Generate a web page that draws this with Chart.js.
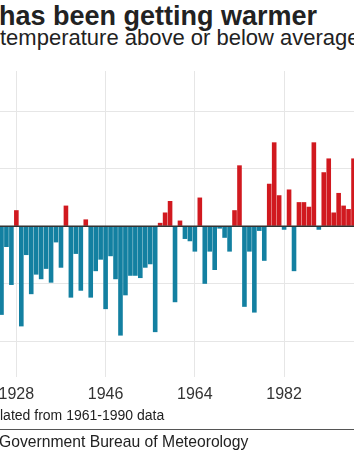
<!DOCTYPE html>
<html>
<head>
<meta charset="utf-8">
<script src="https://cdn.jsdelivr.net/npm/chart.js@4/dist/chart.umd.min.js"></script>
<style>
  html, body { margin: 0; padding: 0; background: #fff; }
  body { width: 354px; height: 450px; position: relative; overflow: hidden; font-family: "Liberation Sans", Arial, Helvetica, sans-serif; color: #222; }
  .txt { position: absolute; white-space: nowrap; line-height: 1; }
  #title { left: -1px; top: 3px; font-size: 27px; font-weight: bold; }
  #subtitle { left: 0; top: 27px; font-size: 22px; }
  #note { left: 0; top: 408px; font-size: 14px; }
  #rule { position: absolute; left: 0; width: 354px; top: 429px; height: 1px; background: #555; }
  #source { left: -1px; top: 433.5px; font-size: 15.7px; }
  #wrap { position: absolute; left: -1px; top: 71px; width: 357px; height: 346px; }
</style>
</head>
<body>
<div class="txt" id="title">has been getting warmer</div>
<div class="txt" id="subtitle">temperature above or below average</div>
<div id="wrap"><canvas id="tempChart"></canvas></div>
<div class="txt" id="note">lated from 1961-1990 data</div>
<div id="rule"></div>
<div class="txt" id="source">Government Bureau of Meteorology</div>
<script>
// years visible in the picture
const years = [
  1925, 1926, 1927, 1928, 1929, 1930, 1931, 1932, 1933, 1934,
  1935, 1936, 1937, 1938, 1939, 1940, 1941, 1942, 1943, 1944,
  1945, 1946, 1947, 1948, 1949, 1950, 1951, 1952, 1953, 1954,
  1955, 1956, 1957, 1958, 1959, 1960, 1961, 1962, 1963, 1964,
  1965, 1966, 1967, 1968, 1969, 1970, 1971, 1972, 1973, 1974,
  1975, 1976, 1977, 1978, 1979, 1980, 1981, 1982, 1983, 1984,
  1985, 1986, 1987, 1988, 1989, 1990, 1991, 1992, 1993, 1994,
  1995, 1996
];

// anomaly in degrees C vs 1961-1990 average
const anomalies = [
  -0.77, -0.18, -0.51, 0.14, -0.87, -0.25, -0.59, -0.42, -0.46, -0.37,
  -0.49, -0.14, -0.36, 0.18, -0.62, -0.24, -0.56, 0.06, -0.62, -0.39,
  -0.29, -0.72, -0.26, -0.46, -0.95, -0.60, -0.43, -0.43, -0.45, -0.36,
  -0.33, -0.92, 0.03, 0.12, 0.22, -0.66, 0.05, -0.11, -0.13, -0.22,
  0.25, -0.50, -0.22, -0.38, -0.02, -0.10, -0.22, 0.14, 0.53, -0.70,
  -0.22, -0.75, -0.04, -0.30, 0.37, 0.73, 0.27, -0.03, 0.32, -0.39,
  0.21, 0.21, 0.17, 0.73, -0.03, 0.47, 0.59, 0.12, 0.29, 0.18,
  0.15, 0.59
];

const tickYears = [1928, 1946, 1964, 1982];
const gridValues = [-1, -0.5, 0.5, 1];

const WARM = '#d1191f';
const COOL = '#1380a1';
const GRID = '#e6e6e6';

const zeroLine = {
  id: 'zeroLine',
  afterDatasetsDraw(chart) {
    const { ctx, chartArea, scales } = chart;
    const y = scales.y.getPixelForValue(0);
    ctx.save();
    ctx.strokeStyle = '#333';
    ctx.lineWidth = 1.5;
    ctx.beginPath();
    ctx.moveTo(chartArea.left, y);
    ctx.lineTo(chartArea.right, y);
    ctx.stroke();
    ctx.restore();
  }
};

new Chart(document.getElementById('tempChart').getContext('2d'), {
  type: 'bar',
  data: {
    labels: years,
    datasets: [{
      data: anomalies,
      backgroundColor: c => (c.raw >= 0 ? WARM : COOL),
      borderWidth: 0,
      barPercentage: 0.93,
      categoryPercentage: 1
    }]
  },
  options: {
    responsive: true,
    maintainAspectRatio: false,
    animation: false,
    layout: { padding: 0 },
    plugins: { legend: { display: false }, tooltip: { enabled: false } },
    scales: {
      x: {
        offset: true,
        border: { display: false },
        grid: {
          offset: false,
          drawTicks: true,
          tickLength: 8,
          tickColor: 'transparent',
          lineWidth: 1,
          color: c => (tickYears.includes(years[c.index]) ? GRID : 'transparent')
        },
        ticks: {
          autoSkip: false,
          maxRotation: 0,
          minRotation: 0,
          padding: 0,
          color: '#333',
          font: { family: '"Liberation Sans", Arial, sans-serif', size: 16 },
          callback: (v, i) => (tickYears.includes(years[i]) ? String(years[i]) : '')
        },
        afterFit: s => { s.height = 40; }
      },
      y: {
        min: -1.31,
        max: 1.35,
        border: { display: false },
        ticks: { display: false, stepSize: 0.5 },
        grid: {
          drawTicks: false,
          lineWidth: 1,
          color: c => (gridValues.includes(c.tick.value) ? GRID : 'transparent')
        },
        afterFit: s => { s.width = 0; }
      }
    }
  },
  plugins: [zeroLine]
});
</script>
</body>
</html>
